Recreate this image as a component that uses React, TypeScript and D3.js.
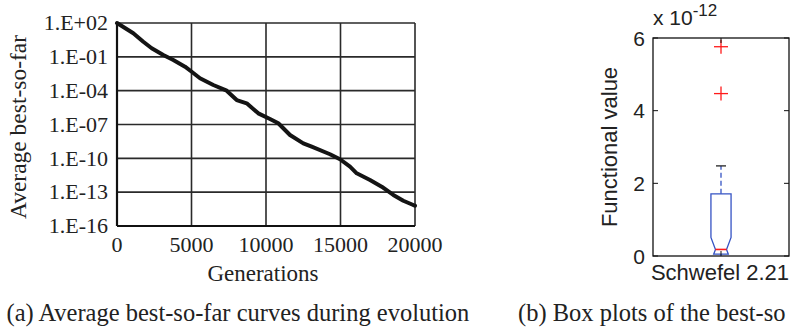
import React from "react";
import * as d3 from "d3";

// (a) average best-so-far curve, log10 of the value read per generation
const generations = [
  0, 1094, 1765, 2329, 3107, 3778, 4564, 5013, 5570, 6463, 7362, 8034, 8705,
  9483, 10268, 10826, 11611, 12503, 13067, 14295, 14966, 15638, 16087, 16980,
  17765, 18544, 19215, 19886, 20000,
];
const logBest = [
  2.0, 1.09, 0.34, -0.24, -0.84, -1.28, -1.87, -2.32, -2.9, -3.5, -4.0, -4.83,
  -5.12, -6.01, -6.51, -6.89, -7.93, -8.67, -8.97, -9.64, -10.08, -10.74,
  -11.33, -11.92, -12.51, -13.25, -13.76, -14.14, -14.2,
];
const genTicks = [0, 5000, 10000, 15000, 20000];
const logTicks = [2, -1, -4, -7, -10, -13, -16];

// (b) box plot of best-so-far values (x 10^-12)
const boxCategories = ["Schwefel 2.21"];
const boxStats = [
  { lo: 0.0, q1: 0.05, median: 0.18, q3: 1.71, hi: 2.48, notch: 0.33 },
];
const boxOutliers = [[4.47, 5.76]];
const valueTicks = [0, 2, 4, 6];

const serif = "'Liberation Serif', 'Times New Roman', serif";
const sans = "'Liberation Sans', Arial, sans-serif";

function fmtExp(e: number) {
  const s = Math.abs(e).toString().padStart(2, "0");
  return `1.E${e >= 0 ? "+" : "-"}${s}`;
}

function CurveChart() {
  const x = d3.scaleLinear().domain([0, 20000]).range([117, 415]);
  const y = d3.scaleLog().domain([1e-16, 1e2]).range([226, 23]);
  const pts = generations.map((g, i) => [g, Math.pow(10, logBest[i])]);
  const line = d3
    .line<number[]>()
    .x((d) => x(d[0]))
    .y((d) => y(d[1]));
  const [x0, x1] = x.range();
  const [y0, y1] = y.range();
  return (
    <g>
      {genTicks.map((t) => (
        <line
          key={"gx" + t}
          x1={x(t)}
          x2={x(t)}
          y1={y0}
          y2={y1}
          stroke="#2a2a2a"
          strokeWidth={1.6}
        />
      ))}
      {logTicks.map((t) => (
        <line
          key={"gy" + t}
          x1={x0}
          x2={x1}
          y1={y(Math.pow(10, t))}
          y2={y(Math.pow(10, t))}
          stroke="#2a2a2a"
          strokeWidth={1.6}
        />
      ))}
      <line x1={x0} x2={x0} y1={y0} y2={y1} stroke="#111" strokeWidth={2.2} />
      <line x1={x0} x2={x1} y1={y0} y2={y0} stroke="#111" strokeWidth={2.2} />
      <path
        d={line(pts) ?? ""}
        fill="none"
        stroke="#141414"
        strokeWidth={4}
        strokeLinejoin="round"
        strokeLinecap="round"
      />
      {logTicks.map((t) => (
        <text
          key={"ly" + t}
          x={108}
          y={y(Math.pow(10, t))}
          dy="0.33em"
          textAnchor="end"
          fontFamily={serif}
          fontSize={22}
          fill="#222"
        >
          {fmtExp(t)}
        </text>
      ))}
      {genTicks.map((t) => (
        <text
          key={"lx" + t}
          x={x(t)}
          y={252}
          textAnchor="middle"
          fontFamily={serif}
          fontSize={22}
          fill="#222"
        >
          {t}
        </text>
      ))}
      <text
        x={263}
        y={281}
        textAnchor="middle"
        fontFamily={serif}
        fontSize={23}
        fill="#222"
      >
        Generations
      </text>
      <text
        transform="translate(25.5,127) rotate(-90)"
        textAnchor="middle"
        fontFamily={serif}
        fontSize={23.5}
        fill="#222"
      >
        Average best-so-far
      </text>
    </g>
  );
}

function BoxChart() {
  const x = d3.scaleBand().domain(boxCategories).range([653, 789]);
  const y = d3.scaleLinear().domain([0, 6]).range([256, 38]);
  const [x0, x1] = x.range();
  const [y0, y1] = y.range();
  const blue = "#3553c4";
  const red = "#ff1a1a";
  const tick = 5;
  return (
    <g>
      <rect
        x={x0}
        y={y1}
        width={x1 - x0}
        height={y0 - y1}
        fill="none"
        stroke="#111"
        strokeWidth={1.3}
      />
      {valueTicks.map((t) => (
        <g key={"t" + t}>
          <line x1={x0} x2={x0 + tick} y1={y(t)} y2={y(t)} stroke="#111" />
          <line x1={x1} x2={x1 - tick} y1={y(t)} y2={y(t)} stroke="#111" />
          <text
            x={645}
            y={y(t)}
            dy="0.36em"
            textAnchor="end"
            fontFamily={sans}
            fontSize={21}
            fill="#222"
          >
            {t}
          </text>
        </g>
      ))}
      <text x={653} y={25} fontFamily={sans} fontSize={21} fill="#222">
        x 10
        <tspan dy={-9} fontSize={17}>
          -12
        </tspan>
      </text>
      <text
        transform="translate(617,147) rotate(-90)"
        textAnchor="middle"
        fontFamily={sans}
        fontSize={22}
        fill="#222"
      >
        Functional value
      </text>
      {boxCategories.map((c, i) => {
        const s = boxStats[i];
        const cx = (x(c) ?? 0) + x.bandwidth() / 2;
        const half = x.bandwidth() * 0.074;
        const inner = half * 0.55;
        const L = cx - half;
        const R = cx + half;
        const nHi = s.median + s.notch;
        // notch lower end runs below Q1 here, so cut the slope at Q1
        const nLo = s.median - s.notch;
        const frac = (s.median - s.q1) / (s.median - nLo);
        const wq1 = inner + (half - inner) * frac;
        const outline = [
          [L, y(s.q3)],
          [R, y(s.q3)],
          [R, y(nHi)],
          [cx + inner, y(s.median)],
          [cx + wq1, y(s.q1)],
          [cx - wq1, y(s.q1)],
          [cx - inner, y(s.median)],
          [L, y(nHi)],
        ];
        const capW = half * 0.5;
        return (
          <g key={c}>
            <line
              x1={cx}
              x2={cx}
              y1={y(s.q3)}
              y2={y(s.hi)}
              stroke={blue}
              strokeWidth={1.3}
              strokeDasharray="5,3"
            />
            <line
              x1={cx}
              x2={cx}
              y1={y(s.q1)}
              y2={y(s.lo)}
              stroke={blue}
              strokeWidth={1.3}
            />
            <line
              x1={cx - capW}
              x2={cx + capW}
              y1={y(s.hi)}
              y2={y(s.hi)}
              stroke="#222"
              strokeWidth={1.3}
            />
            <polygon
              points={outline.map((p) => p.join(",")).join(" ")}
              fill="none"
              stroke={blue}
              strokeWidth={1.3}
            />
            <line
              x1={cx - inner}
              x2={cx + inner}
              y1={y(s.median)}
              y2={y(s.median)}
              stroke={red}
              strokeWidth={1.6}
            />
            {boxOutliers[i].map((v) => (
              <g key={v} stroke={red} strokeWidth={1.3}>
                <line x1={cx - 7} x2={cx + 7} y1={y(v)} y2={y(v)} />
                <line x1={cx} x2={cx} y1={y(v) - 7} y2={y(v) + 7} />
              </g>
            ))}
            <line x1={cx} x2={cx} y1={y0} y2={y0 - tick} stroke="#111" />
            <line x1={cx} x2={cx} y1={y1} y2={y1 + tick} stroke="#111" />
            <text
              x={cx - 1}
              y={280}
              textAnchor="middle"
              fontFamily={sans}
              fontSize={22}
              fill="#222"
            >
              {c}
            </text>
          </g>
        );
      })}
    </g>
  );
}

export default function App() {
  return (
    <svg
      width={791}
      height={327}
      style={{ position: "absolute", left: 0, top: 0, background: "#fff" }}
    >
      <CurveChart />
      <BoxChart />
      <text x={6.5} y={321} fontFamily={serif} fontSize={24.5} fill="#222">
        (a) Average best-so-far curves during evolution
      </text>
      <text x={518} y={321} fontFamily={serif} fontSize={24.5} fill="#222">
        (b) Box plots of the best-so
      </text>
    </svg>
  );
}
